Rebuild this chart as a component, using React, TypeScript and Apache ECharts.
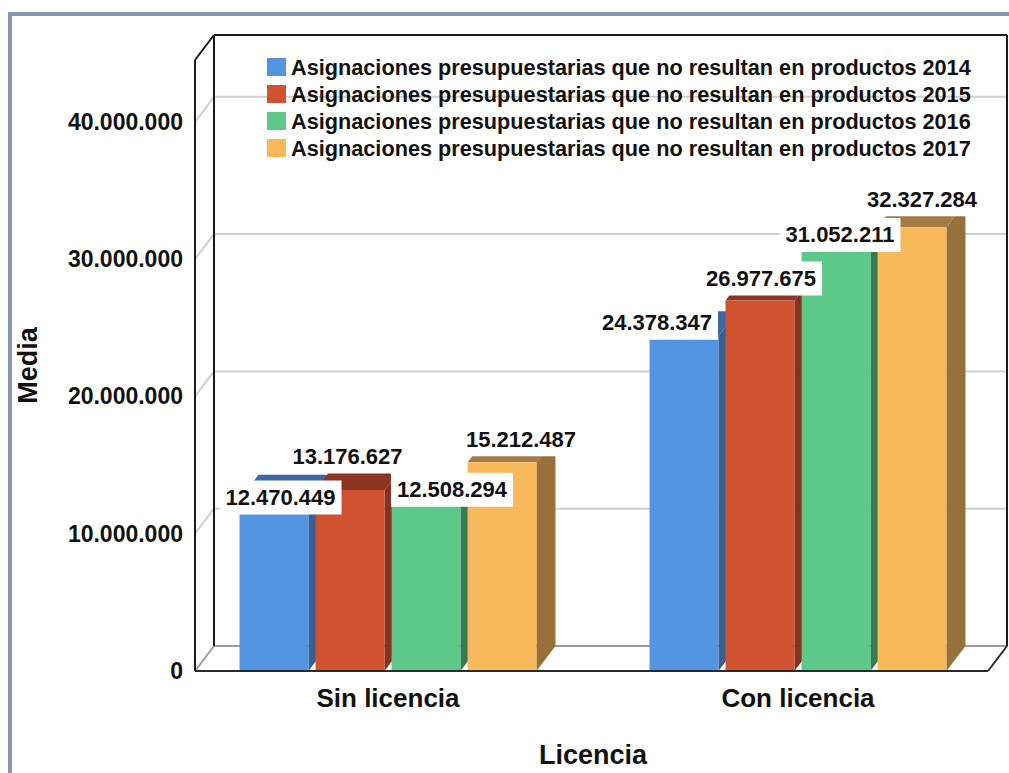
import React, { useEffect, useRef } from "react";
import * as echarts from "echarts";

const CATEGORIES = ["Sin licencia", "Con licencia"];
const SERIES_NAMES = [
  "Asignaciones presupuestarias que no resultan en productos 2014",
  "Asignaciones presupuestarias que no resultan en productos 2015",
  "Asignaciones presupuestarias que no resultan en productos 2016",
  "Asignaciones presupuestarias que no resultan en productos 2017",
];
const VALUES_2014 = [12470449, 24378347];
const VALUES_2015 = [13176627, 26977675];
const VALUES_2016 = [12508294, 31052211];
const VALUES_2017 = [15212487, 32327284];
const Y_TICKS = [0, 10000000, 20000000, 30000000, 40000000];
const Y_MAX = 44500000;
const Y_INTERVAL = 10000000;

const SERIES_VALUES = [VALUES_2014, VALUES_2015, VALUES_2016, VALUES_2017];

// styling
const FRONT = ["#5495e3", "#d05230", "#5cc98b", "#f8b95b"];
const SIDE = ["#3a5e8f", "#873120", "#357a50", "#97703a"];
const TOP = ["#3d66a3", "#8c3422", "#3d8a5b", "#a47b44"];
const FONT = "'Liberation Sans', Arial, sans-serif";

// layout of the 3D box
const BOX_LEFT = 195;
const BOX_RIGHT = 988;
const DX = 19;
const DY = 25;
// label offsets relative to the bar's front-top centre, [category][series]
const LABEL_SHIFT = [
  [[6.5, -2.4], [-2.5, -33.6], [26, -9.4], [19, -23]],
  [[-27, -13.6], [1, -22], [4, -9.7], [10, -28]],
];

const fmt = (v: number) =>
  String(Math.round(v)).replace(/\B(?=(\d{3})+(?!\d))/g, ".");

function barGeom(api: any, c: number, v: number, k: number) {
  const base = api.coord([c, 0]);
  const cx = base[0];
  const yb = base[1];
  const yt = api.coord([c, v])[1];
  const band = api.size([1, 0])[0];
  const barW = band * 0.168;
  const step = band * 0.1854;
  const xl = cx - (3 * step + barW) / 2 + k * step;
  return { xl, xr: xl + barW, yt, yb, barW };
}

export default function App() {
  const ref = useRef<HTMLDivElement>(null);

  useEffect(() => {
    if (!ref.current) return;
    const chart = echarts.init(ref.current, undefined, { renderer: "svg" });

    const gridSeries = {
      type: "custom",
      name: "grid",
      z: 1,
      clip: false,
      silent: true,
      data: Y_TICKS.map((v) => [0, v]),
      renderItem: (params: any, api: any) => {
        const v = api.value(1);
        const fy = api.coord([0, v])[1];
        const color = v === 0 ? "#9c9c9c" : "#cfcfcf";
        return {
          type: "group",
          children: [
            {
              type: "line",
              shape: { x1: BOX_LEFT, y1: fy, x2: BOX_LEFT + DX, y2: fy - DY },
              style: { stroke: color, lineWidth: 2 },
            },
            {
              type: "line",
              shape: { x1: BOX_LEFT + DX, y1: fy - DY, x2: BOX_RIGHT + DX, y2: fy - DY },
              style: { stroke: color, lineWidth: 2 },
            },
          ],
        };
      },
    };

    const frameSeries = {
      type: "custom",
      name: "frame",
      z: 1,
      clip: false,
      silent: true,
      data: [[0, Y_MAX]],
      renderItem: (params: any, api: any) => {
        const f0 = api.coord([0, 0])[1];
        const ft = api.coord([0, api.value(1)])[1];
        const s = { stroke: "#1a1a1a", lineWidth: 2 };
        const L = (x1: number, y1: number, x2: number, y2: number) => ({
          type: "line",
          shape: { x1, y1, x2, y2 },
          style: s,
        });
        return {
          type: "group",
          children: [
            L(BOX_LEFT, ft, BOX_LEFT, f0),
            L(BOX_LEFT + DX, ft - DY, BOX_LEFT + DX, f0 - DY),
            L(BOX_LEFT, ft, BOX_LEFT + DX, ft - DY),
            L(BOX_LEFT + DX, ft - DY, BOX_RIGHT + DX, ft - DY),
            L(BOX_RIGHT + DX, ft - DY, BOX_RIGHT + DX, f0 - DY),
          ],
        };
      },
    };

    const floorSeries = {
      type: "custom",
      name: "floor",
      z: 3,
      clip: false,
      silent: true,
      data: [[0, 0]],
      renderItem: (params: any, api: any) => {
        const f0 = api.coord([0, 0])[1];
        const s = { stroke: "#2a2a2a", lineWidth: 2 };
        return {
          type: "group",
          children: [
            { type: "line", shape: { x1: BOX_LEFT, y1: f0, x2: BOX_RIGHT, y2: f0 }, style: s },
            {
              type: "line",
              shape: { x1: BOX_RIGHT, y1: f0, x2: BOX_RIGHT + DX, y2: f0 - DY },
              style: s,
            },
          ],
        };
      },
    };

    const barSeries = SERIES_VALUES.map((vals, k) => ({
      type: "custom",
      name: SERIES_NAMES[k],
      z: 2,
      clip: false,
      itemStyle: { color: FRONT[k] },
      data: vals.map((v, c) => [c, v]),
      renderItem: (params: any, api: any) => {
        const c = api.value(0);
        const v = api.value(1);
        const { xl, xr, yt, yb, barW } = barGeom(api, c, v, k);
        return {
          type: "group",
          children: [
            {
              type: "polygon",
              shape: { points: [[xr, yt], [xr + DX, yt - DY], [xr + DX, yb - DY], [xr, yb]] },
              style: { fill: SIDE[k] },
            },
            {
              type: "polygon",
              shape: { points: [[xl, yt], [xr, yt], [xr + DX, yt - DY], [xl + DX, yt - DY]] },
              style: { fill: TOP[k] },
            },
            {
              type: "rect",
              shape: { x: xl, y: yt, width: barW, height: yb - yt },
              style: { fill: FRONT[k] },
            },
          ],
        };
      },
    }));

    const labelData: number[][] = [];
    CATEGORIES.forEach((_, c) => {
      SERIES_VALUES.forEach((vals, k) => labelData.push([c, vals[c], k]));
    });

    const labelSeries = {
      type: "custom",
      name: "labels",
      z: 4,
      clip: false,
      silent: true,
      data: labelData,
      renderItem: (params: any, api: any) => {
        const c = api.value(0);
        const v = api.value(1);
        const k = api.value(2);
        const { xl, barW, yt } = barGeom(api, c, v, k);
        const sh = LABEL_SHIFT[c][k];
        return {
          type: "text",
          style: {
            text: fmt(v),
            x: xl + barW / 2 + sh[0],
            y: yt + sh[1],
            align: "center",
            verticalAlign: "middle",
            fill: "#111",
            fontSize: 22,
            fontWeight: "bold",
            fontFamily: FONT,
            lineHeight: 24,
            backgroundColor: "#ffffff",
            padding: [5, 6],
          },
        };
      },
    };

    chart.setOption({
      animation: false,
      backgroundColor: "#ffffff",
      textStyle: { fontFamily: FONT },
      graphic: [
        {
          type: "rect",
          shape: { x: 10, y: 14, width: 1200, height: 1000 },
          style: { fill: "none", stroke: "#8497b3", lineWidth: 4 },
          silent: true,
          z: 0,
        },
      ],
      legend: {
        orient: "vertical",
        left: 262,
        top: 51,
        itemWidth: 19,
        itemHeight: 18,
        itemGap: 5,
        icon: "rect",
        selectedMode: false,
        textStyle: {
          fontSize: 21.7,
          fontWeight: "bold",
          color: "#111",
          fontFamily: FONT,
          lineHeight: 22,
        },
        data: SERIES_NAMES.map((n, k) => ({ name: n, itemStyle: { color: FRONT[k] } })),
      },
      grid: { left: 183, right: 6, top: 60, bottom: 97, containLabel: false },
      xAxis: {
        type: "category",
        data: CATEGORIES,
        axisLine: { show: false },
        axisTick: { show: false },
        splitLine: { show: false },
        axisLabel: {
          fontSize: 26,
          fontWeight: "bold",
          color: "#111",
          margin: 14,
          fontFamily: FONT,
        },
        name: "Licencia",
        nameLocation: "middle",
        nameGap: 70,
        nameTextStyle: { fontSize: 27, fontWeight: "bold", color: "#111", fontFamily: FONT },
      },
      yAxis: {
        type: "value",
        min: 0,
        max: Y_MAX,
        interval: Y_INTERVAL,
        axisLine: { show: false },
        axisTick: { show: false },
        splitLine: { show: false },
        axisLabel: {
          showMaxLabel: false,
          formatter: (v: number) => (Y_TICKS.includes(v) ? fmt(v) : ""),
          fontSize: 23,
          fontWeight: "bold",
          color: "#111",
          margin: 0,
          padding: [7, 0, 0, 0],
          fontFamily: FONT,
        },
        name: "Media",
        nameLocation: "middle",
        nameGap: 142,
        nameTextStyle: { fontSize: 27, fontWeight: "bold", color: "#111", fontFamily: FONT },
      },
      series: [gridSeries, frameSeries, ...barSeries, floorSeries, labelSeries],
    });

    return () => chart.dispose();
  }, []);

  return (
    <div
      ref={ref}
      style={{ position: "fixed", left: 0, top: 0, width: 1009, height: 773 }}
    />
  );
}
